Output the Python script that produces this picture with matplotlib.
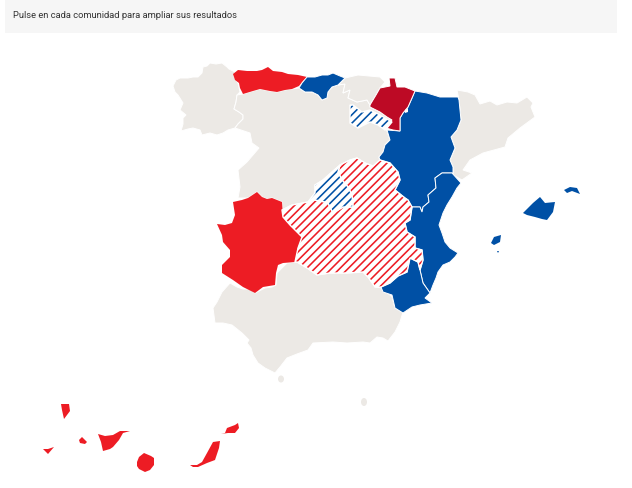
import matplotlib
matplotlib.use("Agg")
import matplotlib.pyplot as plt
from matplotlib.patches import Polygon, Rectangle, Ellipse

# outlines (x, y in image pixels)
galicia = [(173,86),(176,80),(180,78),(188,78),(193,77),(198,77),(202,73),(203,67),(207,66),(210,63),(216,64),(222,63),(227,67),(229,69),(235,72),(234,76),(236,80),(238,83),(240,92),(237,95),(236,102),(234,109),(239,112),(243,115),(243,119),(238,124),(235,128),(228,130),(223,133),(217,135),(210,133),(202,135),(200,130),(193,128),(188,129),(181,131),(183,124),(183,118),(186,115),(180,110),(183,103),(178,95),(175,92)]
asturias = [(233,74),(238,70),(247,71),(257,71),(262,70),(268,67),(273,71),(282,72),(288,74),(298,75),(307,77),(303,81),(299,86),(292,89),(285,90),(277,92),(270,91),(260,89),(253,91),(243,94),(240,88),(239,83),(235,80)]
cantabria = [(299,88),(302,83),(307,77),(315,77),(322,75),(328,75),(333,73),(340,76),(345,78),(340,83),(338,85),(332,87),(328,92),(327,98),(322,100),(318,95),(312,92),(305,92)]
pais_vasco = [(345,78),(358,75),(380,77),(385,82),(380,88),(376,95),(370,105),(367,100),(357,102),(348,98),(350,90),(343,93),(345,84),(338,85)]
navarra = [(370,105),(376,95),(380,88),(390,86),(389,78),(395,78),(397,87),(405,87),(415,91),(412,98),(408,107),(403,113),(400,118),(400,131),(393,130),(386,128),(392,120),(387,117),(380,112),(370,107)]
rioja = [(350,105),(353,105),(362,112),(370,110),(380,115),(392,122),(387,128),(385,130),(378,125),(370,122),(358,128),(350,123)]
aragon = [(415,91),(427,93),(440,97),(458,97),(459,100),(461,120),(457,130),(451,137),(455,148),(450,160),(453,167),(453,173),(442,173),(435,178),(436,188),(428,195),(429,202),(423,207),(422,212),(420,207),(412,207),(408,200),(405,198),(395,190),(400,180),(398,172),(390,163),(380,160),(379,157),(383,152),(385,145),(390,140),(387,130),(400,131),(400,118),(403,113),(408,107),(412,98)]
petilla = [(405,110),(408,108),(408,112),(405,113)]
cataluna = [(457,90),(468,92),(475,95),(480,104),(490,101),(497,105),(507,102),(517,103),(527,97),(533,103),(531,107),(535,117),(520,128),(508,138),(505,147),(483,153),(470,160),(463,170),(472,173),(462,180),(453,175),(453,167),(450,160),(455,148),(451,137),(457,130),(461,120),(459,100)]
valencia = [(442,173),(452,173),(461,183),(457,188),(452,197),(447,205),(443,213),(439,225),(442,233),(445,242),(450,248),(458,253),(455,257),(450,262),(443,265),(438,272),(436,278),(433,285),(430,293),(423,283),(420,270),(423,260),(422,250),(415,248),(415,237),(407,232),(405,223),(410,220),(412,207),(420,207),(422,212),(423,207),(429,202),(428,195),(436,188),(435,178)]
murcia = [(381,287),(390,283),(398,276),(407,272),(410,258),(418,262),(420,270),(423,283),(430,293),(425,298),(432,303),(420,305),(412,307),(403,313),(395,308),(392,295),(383,292)]
madrid = [(308,202),(315,193),(315,185),(323,180),(332,172),(340,165),(338,172),(342,180),(348,187),(352,195),(353,207),(343,207),(333,213),(328,203),(325,202),(315,200)]
castilla_mancha = [(282,210),(292,205),(308,202),(315,200),(325,202),(328,203),(333,213),(343,207),(353,207),(352,195),(348,187),(342,180),(338,172),(340,165),(350,160),(357,158),(365,163),(373,166),(380,160),(390,163),(398,172),(400,180),(395,190),(405,198),(408,200),(412,207),(410,220),(405,223),(407,232),(415,237),(415,248),(422,250),(423,260),(420,270),(418,262),(410,258),(407,272),(398,276),(390,283),(381,287),(375,287),(368,277),(363,272),(347,273),(330,273),(317,275),(307,268),(297,262),(295,262),(298,248),(302,237),(290,225),(283,217)]
extremadura = [(217,224),(225,225),(232,223),(235,215),(233,202),(242,200),(248,198),(257,192),(262,197),(267,199),(272,198),(282,202),(283,217),(290,225),(302,237),(298,248),(295,262),(283,263),(278,265),(276,273),(275,285),(263,287),(255,293),(243,287),(233,280),(222,273),(222,265),(230,257),(230,250),(223,242),(222,235)]
andalucia = [(213,308),(217,302),(222,292),(230,283),(237,287),(243,289),(250,289),(255,293),(265,288),(272,287),(276,285),(277,273),(282,268),(287,263),(297,262),(307,268),(317,275),(330,273),(347,273),(363,272),(368,277),(375,287),(383,288),(392,297),(395,308),(403,312),(400,322),(395,332),(388,341),(383,338),(377,337),(370,343),(363,342),(347,343),(333,342),(313,343),(308,350),(297,354),(287,358),(280,367),(275,373),(265,368),(258,363),(253,355),(251,348),(247,343),(249,340),(242,333),(232,325),(223,323),(215,323)]
castilla_leon = [(243,94),(253,91),(260,89),(270,91),(277,92),(285,90),(292,89),(299,88),(305,92),(312,92),(318,95),(322,100),(327,98),(328,92),(332,87),(338,85),(345,84),(343,93),(350,90),(348,98),(357,102),(367,100),(370,105),(370,107),(380,112),(387,117),(392,120),(386,128),(390,140),(385,145),(383,152),(379,157),(380,163),(373,166),(365,163),(357,158),(350,160),(340,165),(332,172),(323,180),(315,185),(315,193),(308,202),(292,205),(282,210),(282,202),(272,198),(267,199),(262,197),(257,192),(248,198),(238,198),(240,187),(238,170),(247,162),(259,148),(252,143),(250,133),(235,128),(238,124),(243,119),(243,115),(239,112),(234,109),(236,102),(237,95)]
mallorca = [(523,213),(528,208),(533,203),(540,197),(545,203),(555,202),(553,212),(547,220),(542,219),(535,217),(527,215)]
menorca = [(564,190),(570,187),(577,188),(580,194),(572,191),(567,193)]
ibiza = [(491,243),(494,237),(501,235),(500,242),(494,245)]
formentera = [(497,251),(499,251),(498,253)]
la_palma = [(61,404),(69,404),(70,411),(64,419),(62,410)]
el_hierro = [(43,449),(48,449),(54,447),(48,454)]
la_gomera = [(79,440),(82,437),(87,442),(85,444),(80,443)]
tenerife = [(98,434),(105,436),(113,435),(120,431),(130,431),(123,433),(119,440),(113,447),(110,449),(103,451),(101,442)]
gran_canaria = [(137,462),(139,457),(144,453),(151,456),(154,458),(154,465),(150,470),(145,472),(139,469),(137,466)]
fuerteventura = [(190,465),(197,465),(202,462),(207,453),(213,442),(220,441),(219,448),(215,460),(207,463),(198,467),(193,467)]
lanzarote = [(221,434),(225,433),(227,428),(235,425),(238,423),(239,428),(235,433),(228,433)]

GREY = "#ece9e5"
RED = "#ed1c24"
DARKRED = "#bd0a25"
BLUE = "#0050a5"

grey_regions = [galicia, castilla_leon, pais_vasco, cataluna, andalucia]
red_regions = [asturias, extremadura]
blue_regions = [cantabria, aragon, valencia, murcia]
islands = [(la_palma, RED), (el_hierro, RED), (la_gomera, RED), (tenerife, RED), (gran_canaria, RED),
           (fuerteventura, RED), (lanzarote, RED), (mallorca, BLUE), (menorca, BLUE), (ibiza, BLUE), (formentera, BLUE)]
hatched_regions = [(castilla_mancha, RED), (madrid, BLUE), (rioja, BLUE)]

plt.rcParams["hatch.linewidth"] = 1.15

fig = plt.figure(figsize=(6.32, 4.88), dpi=100)
ax = fig.add_axes([0, 0, 1, 1])
ax.set_xlim(0, 632)
ax.set_ylim(488, 0)
ax.axis("off")

# header strip
ax.add_patch(Rectangle((5, 0), 612, 33, facecolor="#f6f6f6", edgecolor="none"))
ax.text(13, 16, "Pulse en cada comunidad para ampliar sus resultados",
        family="Roboto", fontsize=6.75, color="#333333", va="center", ha="left")

for region in grey_regions:
    ax.add_patch(Polygon(region, facecolor=GREY, edgecolor="white", linewidth=0.7))
for region in red_regions:
    ax.add_patch(Polygon(region, facecolor=RED, edgecolor="none"))
for region in blue_regions:
    ax.add_patch(Polygon(region, facecolor=BLUE, edgecolor="white", linewidth=0.7))
ax.add_patch(Polygon(navarra, facecolor=DARKRED, edgecolor="white", linewidth=0.7))
ax.add_patch(Polygon(petilla, facecolor="white", edgecolor="none"))

for region, colour in hatched_regions:
    ax.add_patch(Polygon(region, facecolor="white", edgecolor=colour, hatch="////", linewidth=0))
    ax.add_patch(Polygon(region, fill=False, edgecolor="white", linewidth=1.0))

for region, colour in islands:
    ax.add_patch(Polygon(region, facecolor=colour, edgecolor="none"))

# Ceuta and Melilla
ax.add_patch(Ellipse((281, 379), 6, 7, facecolor=GREY, edgecolor="none"))
ax.add_patch(Ellipse((364, 402), 6, 8, facecolor=GREY, edgecolor="none"))

fig.savefig("out.png", dpi=100)
